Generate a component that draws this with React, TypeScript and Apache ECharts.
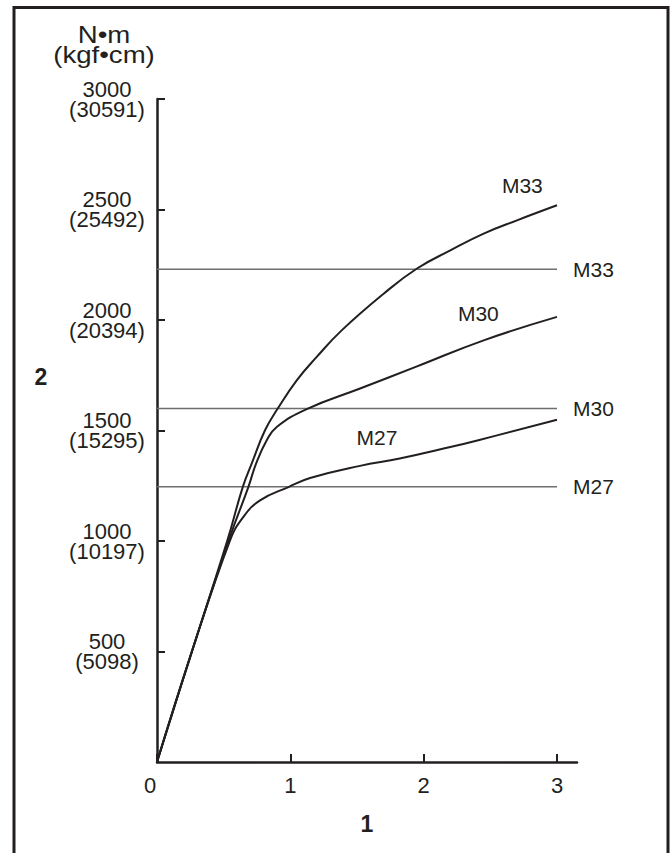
import React, { useEffect, useRef } from "react";
import * as echarts from "echarts";

// Axis ticks
const xTicks = [0, 1, 2, 3];
const yTicks = [500, 1000, 1500, 2000, 2500, 3000];
const kgfTicks = [5098, 10197, 15295, 20394, 25492, 30591];

// Curves (x, torque N·m)
const m33X = [0, 0.25, 0.528, 0.643, 0.71, 0.81, 0.903, 1.048, 1.198, 1.385, 1.7, 1.95, 2.2, 2.45, 2.7, 3.0];
const m33Y = [0, 478, 1003, 1244, 1350, 1501, 1597, 1727, 1833, 1953, 2119, 2233, 2315, 2391, 2451, 2519];
const m30X = [0, 0.25, 0.538, 0.685, 0.743, 0.823, 0.898, 1.123, 1.523, 1.95, 2.45, 3.0];
const m30Y = [0, 478, 1003, 1244, 1350, 1456, 1516, 1597, 1690, 1790, 1908, 2014];
const m27X = [0, 0.25, 0.548, 0.648, 0.773, 0.986, 1.148, 1.523, 1.82, 2.2, 2.41, 3.0];
const m27Y = [0, 478, 1003, 1109, 1184, 1244, 1285, 1340, 1373, 1425, 1456, 1549];

// Limit lines
const limitNames = ["M33", "M30", "M27"];
const limitValues = [2230, 1600, 1245];
const limitStart = 0;
const limitEnd = 3;

// Curve label anchors (data coords)
const curveNames = ["M33", "M30", "M27"];
const curveLabelX = [2.74, 2.41, 1.65];
const curveLabelY = [2610, 2030, 1470];

const FONT = '"Liberation Sans", Arial, Helvetica, sans-serif';
const INK = "#231f20";
const GRAY = "#6d6e71";

const zip = (xs: number[], ys: number[]) => xs.map((x, i) => [x, ys[i]]);

export default function App() {
  const ref = useRef<HTMLDivElement>(null);
  useEffect(() => {
    if (!ref.current) return;
    const chart = echarts.init(ref.current, undefined, { renderer: "svg" });
    const curves = [
      { name: "M33", data: zip(m33X, m33Y) },
      { name: "M30", data: zip(m30X, m30Y) },
      { name: "M27", data: zip(m27X, m27Y) },
    ];
    const option: any = {
      animation: false,
      backgroundColor: "#ffffff",
      grid: { left: 157, top: 99, right: 95, bottom: 91, containLabel: false },
      xAxis: {
        type: "value",
        min: 0,
        max: 3.15,
        interval: 1,
        name: "1",
        nameLocation: "middle",
        nameGap: 50,
        nameTextStyle: { fontFamily: FONT, fontSize: 23, fontWeight: "bold", color: INK },
        axisLine: { show: true, lineStyle: { color: INK, width: 2.5 } },
        axisTick: { show: true, inside: true, length: 8, lineStyle: { color: INK, width: 2 }, customValues: xTicks },
        axisLabel: {
          show: true,
          customValues: xTicks,
          margin: 12,
          fontFamily: FONT,
          fontSize: 22,
          color: INK,
          formatter: (v: number) => (v === 0 ? "{z|0}" : String(v)),
          rich: { z: { fontFamily: FONT, fontSize: 22, color: INK, padding: [0, 14, 0, 0] } },
        },
        splitLine: { show: false },
      },
      yAxis: {
        type: "value",
        min: 0,
        max: 3000,
        interval: 500,
        axisLine: { show: true, lineStyle: { color: INK, width: 2.5 } },
        axisTick: { show: true, inside: true, length: 8, lineStyle: { color: INK, width: 2 }, customValues: yTicks },
        axisLabel: {
          show: true,
          customValues: yTicks,
          margin: 50,
          align: "center",
          fontFamily: FONT,
          fontSize: 22,
          lineHeight: 20,
          padding: [4, 0, 0, 0],
          color: INK,
          formatter: (v: number) => {
            const i = yTicks.indexOf(v);
            return i < 0 ? "" : `${v}\n(${kgfTicks[i]})`;
          },
        },
        splitLine: { show: false },
      },
      series: [
        ...curves.map((c) => ({
          type: "line",
          name: c.name,
          data: c.data,
          smooth: 0.45,
          symbol: "none",
          lineStyle: { color: INK, width: 2 },
          z: 3,
        })),
        ...limitNames.map((n, i) => ({
          type: "line",
          name: "limit-" + n,
          data: [
            [limitStart, limitValues[i]],
            [limitEnd, limitValues[i]],
          ],
          symbol: "none",
          lineStyle: { color: GRAY, width: 1.5 },
          endLabel: {
            show: true,
            formatter: n,
            distance: 16,
            fontFamily: FONT,
            fontSize: 21,
            color: INK,
          },
          z: 2,
        })),
        {
          type: "scatter",
          name: "labels",
          data: zip(curveLabelX, curveLabelY),
          symbolSize: 0,
          itemStyle: { color: INK, opacity: 1 },
          label: {
            show: true,
            position: "inside",
            formatter: (p: any) => curveNames[p.dataIndex],
            fontFamily: FONT,
            fontSize: 21,
            color: INK,
            opacity: 1,
          },
          z: 4,
        },
      ],
      graphic: [
        {
          type: "rect",
          shape: { x: 14, y: 7.5, width: 654, height: 900 },
          style: { fill: "none", stroke: INK, lineWidth: 3 },
          silent: true,
        },
        {
          type: "text",
          x: 104,
          y: 45,
          scaleX: 1.2,
          originX: 0,
          style: {
            text: "N•m\n(kgf•cm)",
            font: `23px ${FONT}`,
            fill: INK,
            align: "center",
            verticalAlign: "middle",
            lineHeight: 20,
          },
        },
        {
          type: "text",
          x: 41,
          y: 377,
          style: {
            text: "2",
            font: `bold 23px ${FONT}`,
            fill: INK,
            align: "center",
            verticalAlign: "middle",
          },
        },
      ],
    };
    chart.setOption(option);
    return () => chart.dispose();
  }, []);
  return (
    <div
      ref={ref}
      style={{ position: "fixed", left: 0, top: 0, width: 672, height: 853, background: "#fff" }}
    />
  );
}
